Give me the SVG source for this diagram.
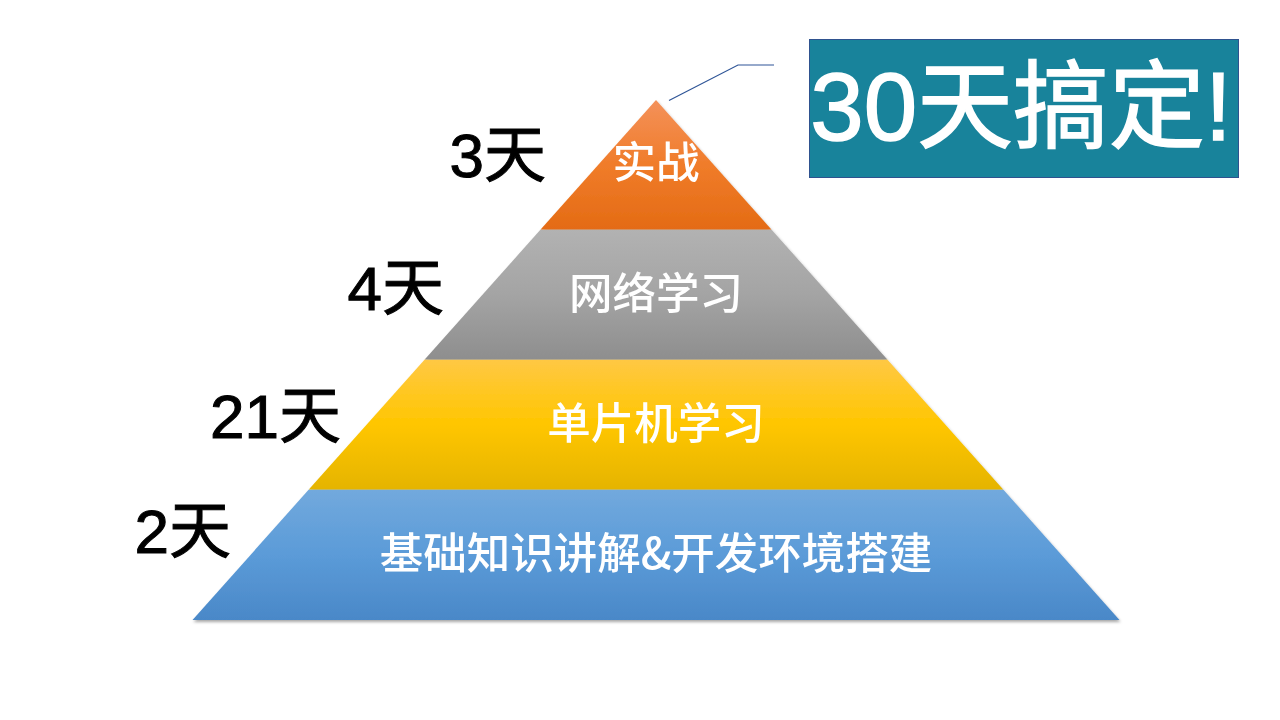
<svg xmlns="http://www.w3.org/2000/svg" width="1280" height="720" viewBox="0 0 1280 720">
  <style>
    .band-label { font-family: "Noto Sans CJK SC", "Liberation Sans", sans-serif; font-size: 43.5px; font-weight: 500; fill: #ffffff; text-anchor: middle; }
    .day-label { font-family: "Liberation Sans", "Noto Sans CJK SC", sans-serif; font-size: 62px; fill: #000000; stroke: #000000; stroke-width: 1; text-anchor: end; }
    .title { font-family: "Liberation Sans", "Noto Sans CJK SC", sans-serif; font-size: 96px; fill: #ffffff; stroke: #ffffff; stroke-width: 1.5; text-anchor: middle; }
    .connector { fill: none; stroke: #2F5597; stroke-width: 1.2; }
  </style>
  <defs>
    <linearGradient id="gOrange" x1="0" y1="0" x2="0" y2="1">
      <stop offset="0" stop-color="#F4915A"/>
      <stop offset="0.5" stop-color="#F07C2A"/>
      <stop offset="1" stop-color="#E46B14"/>
    </linearGradient>
    <linearGradient id="gGray" x1="0" y1="0" x2="0" y2="1">
      <stop offset="0" stop-color="#B2B2B2"/>
      <stop offset="0.5" stop-color="#A4A4A4"/>
      <stop offset="1" stop-color="#8E8E8E"/>
    </linearGradient>
    <linearGradient id="gYellow" x1="0" y1="0" x2="0" y2="1">
      <stop offset="0" stop-color="#FFC844"/>
      <stop offset="0.5" stop-color="#FFC600"/>
      <stop offset="1" stop-color="#E5B400"/>
    </linearGradient>
    <linearGradient id="gBlue" x1="0" y1="0" x2="0" y2="1">
      <stop offset="0" stop-color="#72A9DD"/>
      <stop offset="0.5" stop-color="#5B9BD8"/>
      <stop offset="1" stop-color="#4A88C8"/>
    </linearGradient>
    <filter id="shadow" x="-5%" y="-5%" width="110%" height="115%">
      <feDropShadow dx="1" dy="2" stdDeviation="1.5" flood-color="#000000" flood-opacity="0.35"/>
    </filter>
  </defs>

  <rect width="1280" height="720" fill="#ffffff"/>

  <g id="pyramid" filter="url(#shadow)">
    <g id="band-base">
      <polygon points="308.8,489.5 1003.2,489.5 1119.5,620 192.5,620" fill="url(#gBlue)"/>
      <text class="band-label" x="656" y="569">基础知识讲解&amp;开发环境搭建</text>
    </g>
    <g id="band-mcu">
      <polygon points="424.7,359.5 887.3,359.5 1003.2,489.5 308.8,489.5" fill="url(#gYellow)"/>
      <text class="band-label" x="656" y="439">单片机学习</text>
    </g>
    <g id="band-network">
      <polygon points="540.6,229.5 771.4,229.5 887.3,359.5 424.7,359.5" fill="url(#gGray)"/>
      <text class="band-label" x="656" y="309">网络学习</text>
    </g>
    <g id="band-practice">
      <polygon points="656,100 771.4,229.5 540.6,229.5" fill="url(#gOrange)"/>
      <text class="band-label" x="656" y="178">实战</text>
    </g>
  </g>

  <g id="day-labels">
    <text class="day-label" x="546" y="177">3天</text>
    <text class="day-label" x="444" y="310">4天</text>
    <text class="day-label" x="341" y="438">21天</text>
    <text class="day-label" x="231" y="553">2天</text>
  </g>

  <g id="connectors">
    <polyline class="connector" points="669,100.5 738,65 774,65"/>
  </g>

  <g id="title-box">
    <rect x="809.5" y="39.5" width="429" height="138" fill="#18839B" stroke="#2F528F" stroke-width="1"/>
    <text class="title" x="1021" y="140">30天搞定!</text>
  </g>
</svg>
